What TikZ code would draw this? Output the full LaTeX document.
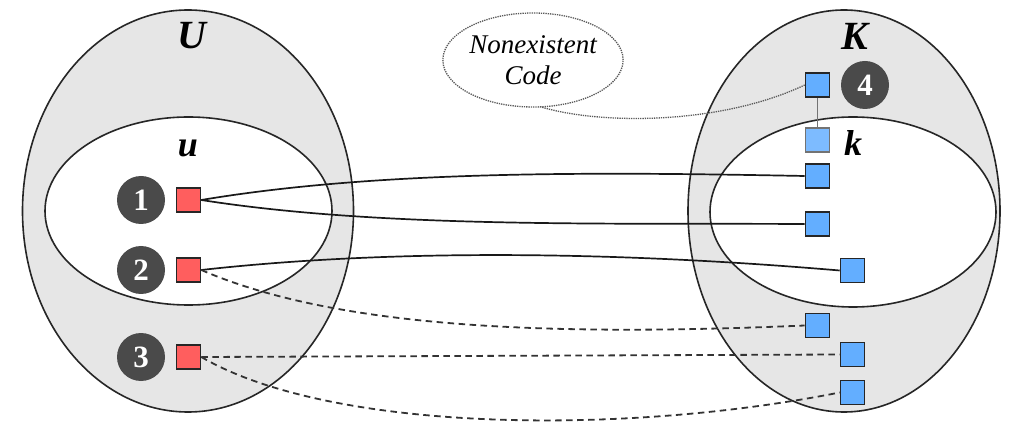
\documentclass[tikz,border=0pt]{standalone}
\usepackage{fontspec}
\setmainfont{Liberation Serif}
\usetikzlibrary{shapes.geometric}
\definecolor{setgray}{HTML}{E6E6E6}
\definecolor{sqred}{HTML}{FF5E5E}
\definecolor{sqblue}{HTML}{63AEFF}
\definecolor{sqlight}{HTML}{7DBBFF}
\definecolor{badgegray}{HTML}{4A4A4A}
\begin{document}
\begin{tikzpicture}[x=1pt,y=-1pt,
  outerset/.style={ellipse, draw=black!85, line width=1.6pt, fill=setgray, inner sep=0},
  innerset/.style={ellipse, draw=black!85, line width=1.6pt, fill=white, inner sep=0},
  setlabel/.style={font=\fontsize{40}{40}\selectfont\bfseries\itshape},
  sublabel/.style={font=\fontsize{36}{36}\selectfont\bfseries\itshape},
  badge/.style={circle, fill=badgegray, text=white, minimum size=48pt, inner sep=0,
    font=\fontsize{31}{31}\selectfont\bfseries},
  redsq/.style={draw=black!85, fill=sqred, line width=1.6pt, minimum size=24pt, inner sep=0},
  bluesq/.style={draw=black!85, fill=sqblue, line width=1.6pt, minimum size=24pt, inner sep=0},
  lightsq/.style={draw=black!55, fill=sqlight, line width=1.6pt, minimum size=24pt, inner sep=0},
  link/.style={draw=black!90, line width=1.7pt},
  dlink/.style={draw=black!80, line width=1.8pt, dash pattern=on 6.5pt off 4.5pt},
  dotlink/.style={draw=black!65, line width=1.3pt, densely dotted},
]
\useasboundingbox (0,0) rectangle (1012,430);

% sets
\node[outerset, minimum width=331pt, minimum height=402pt] (U) at (188,211) {};
\node[innerset, minimum width=287pt, minimum height=188pt] (u) at (188.5,211) {};
\node[outerset, minimum width=312pt, minimum height=402pt] (K) at (844,211) {};
\node[innerset, minimum width=286pt, minimum height=190pt] (k) at (853,212) {};

\node[setlabel] (Ulab) at (192,36) {U};
\node[sublabel] (ulab) at (188,148) {u};
\node[setlabel] (Klab) at (855,36) {K};
\node[sublabel] (klab) at (853,143) {k};

% nonexistent code
\node[ellipse, draw=black!65, line width=1.3pt, densely dotted, minimum width=170pt, minimum height=94pt, inner sep=0,
  align=center, font=\fontsize{27}{31}\selectfont\itshape] (nc) at (533,60) {Nonexistent\\Code};

% badges
\node[badge] (b1) at (141,200) {1};
\node[badge] (b2) at (141,270) {2};
\node[badge] (b3) at (141,357) {3};
\node[badge] (b4) at (865,85) {4};

% squares
\node[redsq] (r1) at (188.5,200) {};
\node[redsq] (r2) at (188.5,270) {};
\node[redsq] (r3) at (188.5,357) {};

\node[bluesq] (q4) at (817.5,85) {};
\node[lightsq] (qk) at (817.5,140) {};
\node[bluesq] (q1) at (817.5,176) {};
\node[bluesq] (q2) at (817.5,224) {};
\node[bluesq] (q3) at (852.5,270.5) {};
\node[bluesq] (q5) at (817.5,325.5) {};
\node[bluesq] (q6) at (852.5,354.5) {};
\node[bluesq] (q7) at (852.5,392.5) {};

% connectors
\draw[draw=black!55, line width=1.2pt] (q4.south) -- (qk.north);
\path (nc.south) ++(7,-1) coordinate (ncs);
\path[dotlink] (ncs) .. controls (600,125) and (720,125) .. (q4.west);
\path[link] (r1.east) .. controls (380,170) and (600,172) .. (q1.west);
\path[link] (r1.east) .. controls (380,228) and (600,223) .. (q2.west);
\path[link] (r2.east) .. controls (380,250) and (600,250) .. (q3.west);
\path[dlink] (r2.east) .. controls (340,330) and (560,336) .. (q5.west);
\path[dlink] (r3.east) -- (q6.west);
\path[dlink] (r3.east) .. controls (330,432) and (620,436) .. (q7.west);

% squares on top of the connectors
\node[redsq] at (r1) {};
\node[redsq] at (r2) {};
\node[redsq] at (r3) {};
\node[bluesq] at (q4) {};
\node[lightsq] at (qk) {};
\node[bluesq] at (q1) {};
\node[bluesq] at (q2) {};
\node[bluesq] at (q3) {};
\node[bluesq] at (q5) {};
\node[bluesq] at (q6) {};
\node[bluesq] at (q7) {};
\end{tikzpicture}
\end{document}
